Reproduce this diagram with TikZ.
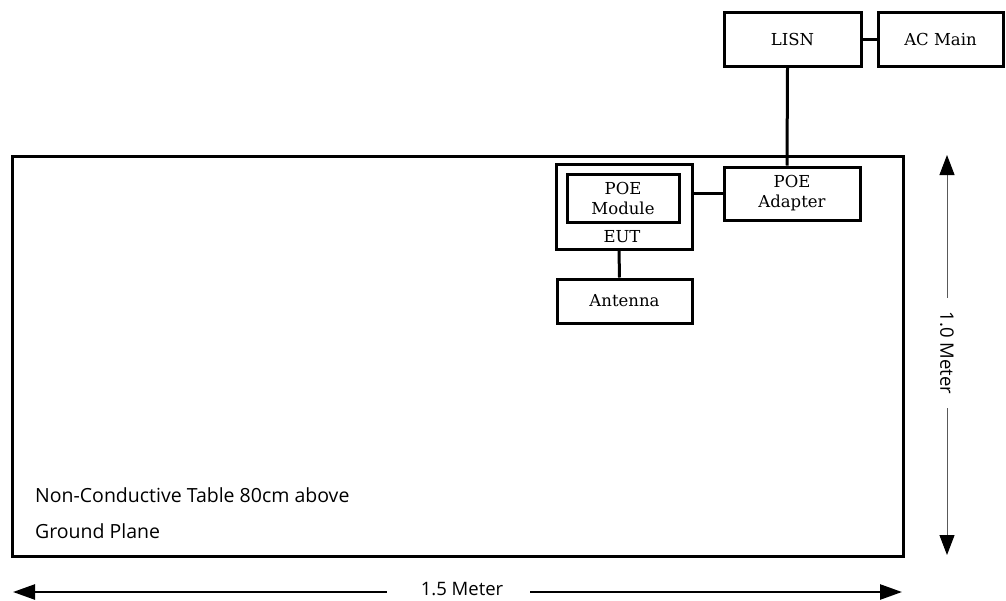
\documentclass[tikz,border=0pt]{standalone}
\usepackage{fontspec}
\setmainfont{DejaVu Serif}
\newfontfamily\labsans{Open Sans}
\usetikzlibrary{arrows.meta,calc}
\tikzset{
  blk/.style={draw=black, line width=3pt, rectangle, inner sep=0pt, align=center,
              font=\fontsize{16.5}{20}\selectfont},
  wire/.style={draw=black, line width=3pt},
  dimtxt/.style={font=\labsans\fontsize{18.5}{20}\selectfont, inner sep=0pt},
  notetxt/.style={font=\labsans\fontsize{19.5}{21}\selectfont, anchor=west, inner sep=0pt},
}
\begin{document}
\begin{tikzpicture}[x=1pt,y=-1pt]
\useasboundingbox (0,0) rectangle (1006,600);
% table
\draw[line width=3pt] (12,156) rectangle (903,556);
% boxes
\node[blk, minimum width=137pt, minimum height=54pt] (lisn) at (792.5,39) {LISN};
\node[blk, minimum width=125pt, minimum height=54pt] (ac) at (940.5,39) {AC Main};
\node[blk, minimum width=136pt, minimum height=53pt] (adapter) at (792,193.5) {POE\\Adapter};
\node[blk, minimum width=136pt, minimum height=85pt] (eut) at (624,206.5) {};
\node[blk, minimum width=112pt, minimum height=48pt] (module) at (623,198) {POE\\Module};
\node[font=\fontsize{16.5}{20}\selectfont, inner sep=0pt] (eutlab) at (622,237) {EUT};
\node[blk, minimum width=135pt, minimum height=44pt] (antenna) at (624.5,301) {Antenna};
% wires
\draw[wire] (lisn.east) -- (ac.west);
\draw[wire] ([xshift=-5pt]lisn.south) -- ([xshift=-5pt]adapter.north);
\draw[wire] (eut.east |- adapter.west) -- (adapter.west);
\draw[wire] ([xshift=-5pt]eut.south) -- ([xshift=-5pt]antenna.north);
% notes
\node[notetxt] (note1) at (35,495) {Non-Conductive Table 80cm above};
\node[notetxt] (note2) at (35,531) {Ground Plane};
% vertical dimension
\coordinate (vtop) at (947,155);
\coordinate (vbot) at (947,555);
\node[dimtxt, rotate=-90, inner xsep=14pt] (vlab) at (947,353) {1.0 Meter};
\draw[gray!70!black, line width=1pt, -{Triangle[width=15pt,length=20pt,color=black]}] (vlab.west) -- (vtop);
\draw[gray!70!black, line width=1pt, -{Triangle[width=15pt,length=20pt,color=black]}] (vlab.east) -- (vbot);
% horizontal dimension
\coordinate (hleft) at (13,592);
\coordinate (hright) at (902,592);
\node[dimtxt, inner xsep=0pt] (hlab) at (462,589) {1.5 Meter};
\draw[line width=2.5pt, -{Triangle[width=15pt,length=22pt]}] ([xshift=-34pt]hlab.west |- hleft) -- (hleft);
\draw[line width=2.5pt, -{Triangle[width=15pt,length=22pt]}] ([xshift=27pt]hlab.east |- hright) -- (hright);
\end{tikzpicture}
\end{document}
